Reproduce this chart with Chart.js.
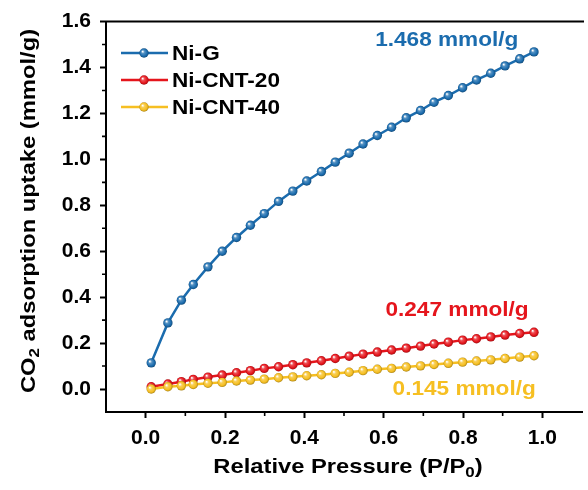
<!DOCTYPE html>
<html>
<head>
<meta charset="utf-8">
<script src="https://cdn.jsdelivr.net/npm/chart.js@4.4.1/dist/chart.umd.min.js"></script>
<style>
  html, body { margin: 0; padding: 0; background: #fff; overflow: hidden; }
  #wrap { width: 588px; height: 490px; overflow: hidden; }
</style>
</head>
<body>
<div id="wrap"><canvas id="chart" width="590" height="490"></canvas></div>
<script>
// relative pressure P/P0 (same grid for all three samples)
const pressure = [0.014, 0.056, 0.090, 0.120, 0.157, 0.193, 0.229, 0.264, 0.299, 0.335,
  0.371, 0.406, 0.443, 0.478, 0.513, 0.548, 0.584, 0.620, 0.657, 0.693,
  0.727, 0.763, 0.799, 0.834, 0.870, 0.906, 0.943, 0.979];

// CO2 uptake, mmol/g
const niG = [0.114, 0.288, 0.387, 0.455, 0.532, 0.600, 0.660, 0.713, 0.764, 0.817,
  0.862, 0.906, 0.947, 0.988, 1.027, 1.067, 1.104, 1.140, 1.181, 1.213,
  1.249, 1.278, 1.312, 1.346, 1.375, 1.407, 1.438, 1.468];
const niCnt20 = [0.010, 0.022, 0.032, 0.042, 0.052, 0.061, 0.071, 0.080, 0.090, 0.097,
  0.106, 0.114, 0.123, 0.133, 0.143, 0.152, 0.161, 0.170, 0.178, 0.187,
  0.196, 0.204, 0.213, 0.219, 0.227, 0.235, 0.242, 0.247];
const niCnt40 = [0.000, 0.010, 0.014, 0.020, 0.025, 0.029, 0.035, 0.039, 0.043, 0.049,
  0.053, 0.058, 0.062, 0.068, 0.073, 0.080, 0.086, 0.090, 0.096, 0.101,
  0.107, 0.112, 0.117, 0.122, 0.127, 0.133, 0.139, 0.145];

const seriesNames = ['Ni-G', 'Ni-CNT-20', 'Ni-CNT-40'];
const seriesColors = ['#1b6cae', '#e5151c', '#f6bf22'];
const endLabels = ['1.468 mmol/g', '0.247 mmol/g', '0.145 mmol/g'];

const xMajorTicks = [0, 0.2, 0.4, 0.6, 0.8, 1.0];
const yMajorTicks = [0, 0.2, 0.4, 0.6, 0.8, 1.0, 1.2, 1.4, 1.6];
const xMinorTicks = [0.1, 0.3, 0.5, 0.7, 0.9];
const yMinorTicks = [0.1, 0.3, 0.5, 0.7, 0.9, 1.1, 1.3, 1.5];

const FONT = '"Liberation Sans", Arial, sans-serif';
const STRETCH = 1.13;

const isMajor = (list, v) => list.some(t => Math.abs(t - v) < 1e-6);

function shade(hex, k) {
  const n = parseInt(hex.slice(1), 16);
  const f = c => Math.max(0, Math.min(255, Math.round(k < 0 ? c * (1 + k) : c + (255 - c) * k)));
  return `rgb(${f(n >> 16)},${f((n >> 8) & 255)},${f(n & 255)})`;
}

// shiny ball marker fill
function ballGradient(c, x, y, color) {
  const g = c.createRadialGradient(x - 1.5, y - 1.6, 0.3, x, y, 5);
  g.addColorStop(0, '#ffffff');
  g.addColorStop(0.3, shade(color, 0.25));
  g.addColorStop(0.7, color);
  g.addColorStop(1, shade(color, -0.35));
  return g;
}

function ballFill(color) {
  return ctx => {
    if (ctx.type !== 'data' || !ctx.parsed) return color;
    const chart = ctx.chart;
    const px = chart.scales.x.getPixelForValue(ctx.parsed.x);
    const py = chart.scales.y.getPixelForValue(ctx.parsed.y);
    if (!isFinite(px) || !isFinite(py)) return color;
    return ballGradient(chart.ctx, px, py, color);
  };
}

// draws text made of normal / subscript parts, centred, slightly widened
function drawRich(c, parts, size, color) {
  c.fillStyle = color;
  c.textBaseline = 'middle';
  c.textAlign = 'left';
  let w = 0;
  parts.forEach(p => {
    c.font = `bold ${p.sub ? Math.round(size * 0.72) : size}px ${FONT}`;
    p.w = c.measureText(p.t).width;
    w += p.w;
  });
  c.scale(STRETCH, 1);
  let x = -w / 2;
  parts.forEach(p => {
    c.font = `bold ${p.sub ? Math.round(size * 0.72) : size}px ${FONT}`;
    c.fillText(p.t, x, p.sub ? size * 0.3 : 0);
    x += p.w;
  });
}

const makeSet = (i, values, order) => ({
  label: seriesNames[i],
  data: pressure.map((p, k) => ({ x: p, y: values[k] })),
  borderColor: seriesColors[i],
  borderWidth: 2.5,
  pointRadius: 4.7,
  pointBorderWidth: 0,
  pointBackgroundColor: ballFill(seriesColors[i]),
  tension: 0,
  order: order
});

const frame = {
  id: 'frame',
  afterDraw(chart) {
    const c = chart.ctx;
    const { left, right, top, bottom } = chart.chartArea;
    const xs = chart.scales.x, ys = chart.scales.y;
    c.save();
    c.strokeStyle = '#000';

    // top border
    c.lineWidth = 2;
    c.beginPath();
    c.moveTo(left - 1, top);
    c.lineTo(right + 2, top);
    c.stroke();

    // minor ticks
    c.lineWidth = 1.6;
    c.beginPath();
    xMinorTicks.forEach(v => {
      const px = xs.getPixelForValue(v);
      c.moveTo(px, bottom);
      c.lineTo(px, bottom + 4);
    });
    yMinorTicks.forEach(v => {
      const py = ys.getPixelForValue(v);
      c.moveTo(left, py);
      c.lineTo(left - 4, py);
    });
    c.stroke();

    // legend
    const rows = [53, 80, 107];
    seriesNames.forEach((name, i) => {
      const y = rows[i];
      c.strokeStyle = seriesColors[i];
      c.lineWidth = 2.5;
      c.beginPath();
      c.moveTo(121, y);
      c.lineTo(168, y);
      c.stroke();
      c.fillStyle = ballGradient(c, 144, y, seriesColors[i]);
      c.beginPath();
      c.arc(144, y, 4.7, 0, Math.PI * 2);
      c.fill();
      c.save();
      c.translate(172, y);
      c.scale(STRETCH, 1);
      c.fillStyle = '#000';
      c.font = `bold 20px ${FONT}`;
      c.textBaseline = 'middle';
      c.fillText(name, 0, 1);
      c.restore();
    });

    // uptake at the last point of each isotherm
    const anchors = [[0.759, 1.517], [0.785, 0.340], [0.803, 0.0]];
    endLabels.forEach((txt, i) => {
      c.save();
      c.translate(xs.getPixelForValue(anchors[i][0]), ys.getPixelForValue(anchors[i][1]));
      drawRich(c, [{ t: txt }], 20, seriesColors[i]);
      c.restore();
    });

    // axis titles
    c.save();
    c.translate(29, 211);
    c.rotate(-Math.PI / 2);
    drawRich(c, [{ t: 'CO' }, { t: '2', sub: true }, { t: ' adsorption uptake (mmol/g)' }], 21, '#000');
    c.restore();

    c.save();
    c.translate(348, 467);
    drawRich(c, [{ t: 'Relative Pressure (P/P' }, { t: '0', sub: true }, { t: ')' }], 21, '#000');
    c.restore();

    c.restore();
  }
};

new Chart(document.getElementById('chart'), {
  type: 'line',
  data: {
    datasets: [makeSet(0, niG, 0), makeSet(1, niCnt20, 2), makeSet(2, niCnt40, 1)]
  },
  options: {
    responsive: false,
    animation: false,
    layout: { padding: { top: 21, left: 0, right: 0, bottom: 0 } },
    plugins: { legend: { display: false }, tooltip: { enabled: false } },
    scales: {
      x: {
        type: 'linear',
        min: -0.1,
        max: 1.1,
        afterFit(scale) { scale.height = 78; },
        border: { display: true, color: '#000', width: 2 },
        grid: {
          drawOnChartArea: false,
          tickLength: 6,
          tickWidth: 2,
          tickColor: ctx => isMajor(xMajorTicks, ctx.tick.value) ? '#000' : 'rgba(0,0,0,0)'
        },
        ticks: {
          stepSize: 0.1,
          autoSkip: false,
          maxRotation: 0,
          padding: 8,
          color: '#000',
          font: { family: FONT, size: 21, weight: 'bold' },
          callback: v => isMajor(xMajorTicks, v) ? v.toFixed(1) : ''
        }
      },
      y: {
        min: -0.1,
        max: 1.6,
        afterFit(scale) { scale.width = 106; },
        border: { display: true, color: '#000', width: 2 },
        grid: {
          drawOnChartArea: false,
          tickLength: 6,
          tickWidth: 2,
          tickColor: ctx => isMajor(yMajorTicks, ctx.tick.value) ? '#000' : 'rgba(0,0,0,0)'
        },
        ticks: {
          stepSize: 0.1,
          autoSkip: false,
          padding: 9,
          color: '#000',
          font: { family: FONT, size: 21, weight: 'bold' },
          callback: v => isMajor(yMajorTicks, v) ? v.toFixed(1) : ''
        }
      }
    }
  },
  plugins: [frame]
});
</script>
</body>
</html>
